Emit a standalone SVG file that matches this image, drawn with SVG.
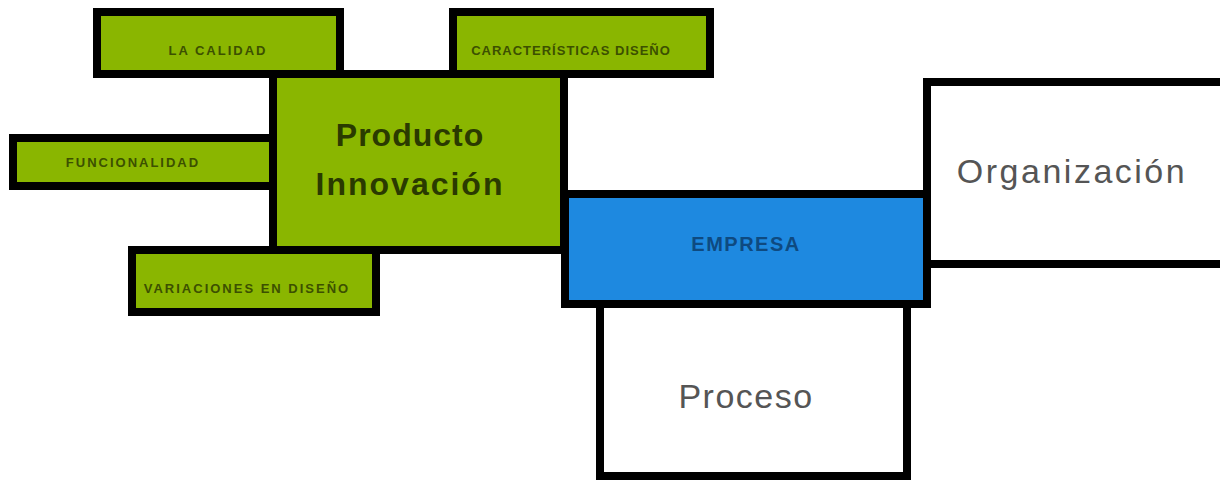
<svg xmlns="http://www.w3.org/2000/svg" width="1220" height="480" viewBox="0 0 1220 480">
<style>
.box{stroke:#000;stroke-width:8}
.g{fill:#8ab600}
.w{fill:#fff}
.b{fill:#1e89e0}
.s{font-family:"Liberation Sans",Arial,sans-serif;font-size:13px;font-weight:bold;fill:#3c5000;letter-spacing:2px;text-anchor:middle}
.p{font-family:"Liberation Sans",Arial,sans-serif;font-size:32px;font-weight:bold;fill:#2a3a00;letter-spacing:1px;text-anchor:middle}
.gr{font-family:"Liberation Sans",Arial,sans-serif;font-size:34px;fill:#555;letter-spacing:1.5px;text-anchor:middle}
.e{font-family:"Liberation Sans",Arial,sans-serif;font-size:20px;font-weight:bold;fill:#0e4a80;letter-spacing:1.5px;text-anchor:middle}
</style>
<rect width="1220" height="480" fill="#fff"/>
<g id="calidad"><rect class="box g" x="97" y="12" width="243" height="62"/><text class="s" x="218" y="55">LA CALIDAD</text></g>
<g id="caracteristicas"><rect class="box g" x="453" y="12" width="257" height="62"/><text class="s" x="571" y="55" style="letter-spacing:1px">CARACTERÍSTICAS DISEÑO</text></g>
<g id="funcionalidad"><rect class="box g" x="13" y="138" width="262" height="48"/><text class="s" x="133" y="167">FUNCIONALIDAD</text></g>
<g id="variaciones"><rect class="box g" x="132" y="250" width="244" height="62"/><text class="s" x="247" y="293">VARIACIONES EN DISEÑO</text></g>
<g id="producto"><rect class="box g" x="273" y="74" width="291" height="176"/><text class="p" x="410" y="146">Producto</text><text class="p" x="410" y="195" style="letter-spacing:2px">Innovación</text></g>
<g id="organizacion"><rect class="box w" x="927" y="82" width="300" height="182"/><text class="gr" x="1072" y="183" style="letter-spacing:2.5px">Organización</text></g>
<g id="proceso"><rect class="box w" x="600" y="304" width="307" height="172"/><text class="gr" x="746" y="408">Proceso</text></g>
<g id="empresa"><rect class="box b" x="565" y="194" width="362" height="110"/><text class="e" x="746" y="251">EMPRESA</text></g>
<g id="connectors"></g>
</svg>
